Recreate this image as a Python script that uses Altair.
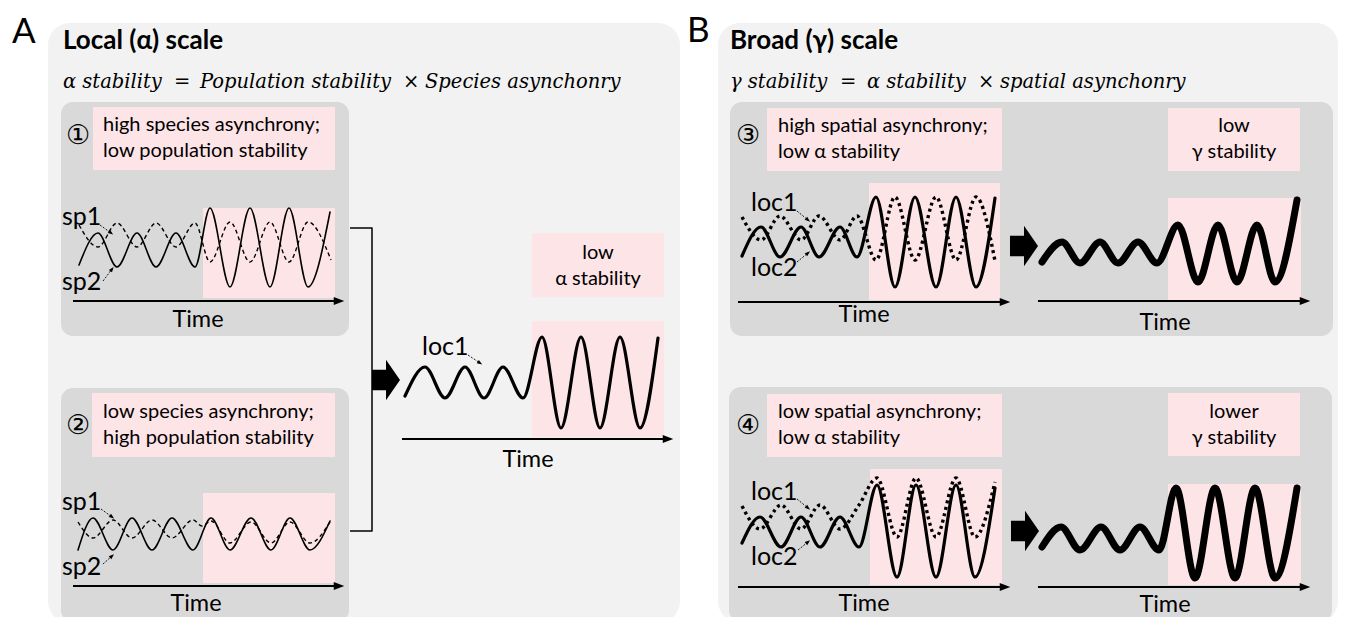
import math
import altair as alt
import pandas as pd

# ---------------- frame (the page adds an 8 px margin) ----------------
W, H, M = 1332, 609, 8

# ---------------- colours ----------------
PANEL_FILL = "#f2f2f2"
SUB_FILL = "#d9d9d9"
PINK_FILL = "#fde4e7"

# ---------------- boxes: (x, x2, y, y2) ----------------
PANELS = [(48, 680, 23, 623), (718, 1338, 23, 623)]
SUBPANELS = [(61, 349, 102, 336), (61, 349, 388, 622),
             (730, 1333, 102, 336), (729, 1332, 387, 622)]
LABEL_BOXES = [(93, 335, 107, 170), (92, 335, 393, 457), (532, 664, 233, 297),
               (767, 1002, 108, 171), (1168, 1300, 108, 171),
               (767, 1002, 394, 457), (1168, 1300, 393, 456)]
SHADE_BOXES = [(203, 335, 208, 298), (203, 335, 493, 583), (532, 664, 321, 437),
               (869, 1000, 183, 300), (1168, 1301, 198, 300),
               (870, 1002, 469, 585), (1168, 1301, 484, 585)]

# ---------------- curves: turning points ----------------
A1_SP2 = [(79, 265), (98, 233), (117, 267), (137, 233), (156, 267), (176, 233), (195, 267),
          (210, 208), (230, 287), (250, 208), (270, 287), (289, 208), (308, 287), (330, 212)]
A1_SP1 = [(79, 225), (98, 247), (117, 223), (137, 247), (156, 223), (176, 247), (195, 223),
          (210, 262), (230, 222), (250, 262), (270, 222), (289, 262), (308, 222), (331, 260)]
A2_SP2 = [(78, 550), (93, 518), (113, 550), (132, 518), (152, 550), (172, 518), (193, 550),
          (211, 518), (230, 550), (251, 518), (271, 550), (290, 518), (310, 550), (330, 521)]
A2_SP1 = [(78, 522), (93, 538), (113, 520), (132, 538), (152, 520), (172, 538), (193, 520),
          (202, 526), (211, 521), (230, 543), (251, 522), (271, 543), (290, 522), (310, 543),
          (330, 522)]
A_LOC1 = [(405, 396), (425, 367), (445, 398), (465, 367), (484, 398), (503, 367), (523, 398),
          (542, 337), (561, 428), (581, 337), (600, 428), (620, 337), (640, 428), (658, 338)]
B3_LOC2 = [(742, 256), (761, 227), (780, 257), (801, 227), (819, 257), (840, 227), (857, 257),
           (876, 197), (895, 287), (915, 197), (936, 287), (956, 197), (976, 287), (995, 198)]
B3_LOC1 = [(742, 217), (761, 240), (780, 216), (801, 240), (819, 216), (840, 240), (857, 216),
           (876, 260), (895, 197), (915, 260), (936, 197), (956, 260), (976, 197), (995, 261)]
B3_GAMMA = [(1042, 262), (1062, 242), (1080, 263), (1100, 242), (1118, 263), (1138, 242),
            (1157, 263), (1178, 225), (1198, 282), (1218, 225), (1237, 282), (1257, 225),
            (1275, 282), (1297, 200)]
B4_LOC2 = [(742, 543), (760, 517), (781, 547), (801, 517), (820, 547), (840, 517), (859, 547),
           (877, 485), (897, 577), (916, 485), (936, 577), (956, 485), (975, 577), (995, 488)]
B4_LOC1 = [(742, 506), (760, 529), (781, 505), (801, 529), (820, 505), (840, 529), (859, 505),
           (877, 478), (897, 537), (916, 478), (936, 537), (956, 478), (975, 537), (995, 482)]
B4_GAMMA = [(1042, 547), (1061, 527), (1080, 550), (1101, 527), (1120, 550), (1140, 527),
            (1159, 550), (1176, 488), (1195, 578), (1215, 488), (1235, 578), (1255, 488),
            (1275, 578), (1297, 488)]

BRACKET = [(350, 228), (372, 228), (372, 531), (350, 531)]

# time axes: (x start, x tip, y)
TIME_AXES = [(73, 344, 301), (73, 344, 586), (402, 673, 439), (738, 1010, 302),
             (1038, 1310, 301), (738, 1010, 587), (1038, 1310, 587)]
TIME_LABELS = [(198, 320), (196, 604), (528, 460), (864, 315), (1165, 323), (864, 604), (1165, 605)]

BIG_ARROWS = [(386, 380), (1024, 246), (1025, 531)]
LABEL_ARROWS = [((100, 225), (111, 233)), ((103, 281), (112, 269)),
                ((101, 509), (112, 517)), ((103, 564), (112, 556)),
                ((468, 355), (480, 363)),
                ((797, 211), (808, 220)), ((797, 262), (808, 253)),
                ((797, 499), (808, 508)), ((798, 550), (808, 542))]

# ---------------- texts ----------------
BIG_LETTERS = [("A", 12, 43), ("B", 687, 42)]
TITLES = [("Local (α) scale", 63, 41), ("Broad (γ) scale", 730, 41)]
FORMULA = [("α stability", 63), ("=", 174), ("Population stability", 200), ("×", 403),
           ("Species asynchonry", 425),
           ("γ stability", 730), ("=", 840), ("α stability", 867), ("×", 978),
           ("spatial asynchonry", 1000)]
FORMULA_Y = 82
BOX_TEXT_LEFT = [("high species asynchrony;", 103, 125), ("low population stability", 103, 151),
                 ("low species asynchrony;", 103, 412), ("high population stability", 103, 438),
                 ("high spatial asynchrony;", 778, 126), ("low α stability", 778, 152),
                 ("low spatial asynchrony;", 778, 412), ("low α stability", 778, 438)]
BOX_TEXT_CENTER = [("low", 598, 253), ("α stability", 598, 279),
                   ("low", 1234, 126), ("γ stability", 1234, 152),
                   ("lower", 1234, 412), ("γ stability", 1234, 438)]
SERIES_LABELS = [("sp1", 62, 217), ("sp2", 62, 282), ("sp1", 62, 502), ("sp2", 62, 567),
                 ("loc1", 422, 347), ("loc1", 751, 203), ("loc2", 751, 268),
                 ("loc1", 751, 492), ("loc2", 751, 557)]
CIRCLED = [("①", 78, 136), ("②", 78, 426), ("③", 748, 136), ("④", 748, 426)]

# ---------------- scales ----------------
xs = alt.Scale(domain=[M, M + W], nice=False, zero=False)
ys = alt.Scale(domain=[M, M + H], nice=False, zero=False, reverse=True)


def X(f):
    return alt.X(f, type="quantitative", scale=xs, axis=None)


def Y(f):
    return alt.Y(f, type="quantitative", scale=ys, axis=None)


def rect_layer(boxes, fill, radius):
    df = pd.DataFrame(boxes, columns=["x", "x2", "y", "y2"])
    return alt.Chart(df).mark_rect(cornerRadius=radius, fill=fill, strokeWidth=0).encode(
        x=X("x"), x2=alt.X2("x2"), y=Y("y"), y2=alt.Y2("y2"))


def line_layer(curves, width, dash=None, interp="monotone", cap="round"):
    rows = []
    for cid, pts in enumerate(curves):
        for i, (px, py) in enumerate(pts):
            rows.append({"id": cid, "i": i, "x": px, "y": py})
    kw = dict(interpolate=interp, color="black", strokeWidth=width, strokeCap=cap,
              strokeJoin="round")
    if dash is not None:
        kw["strokeDash"] = dash
    return alt.Chart(pd.DataFrame(rows)).mark_line(**kw).encode(
        x=X("x"), y=Y("y"), detail="id:N", order="i:Q")


def text_layer(items, size, align="left", font="Lato", weight="normal", style="normal",
               baseline="middle"):
    df = pd.DataFrame(items, columns=["t", "x", "y"])
    return alt.Chart(df).mark_text(align=align, baseline=baseline, font=font, fontSize=size,
                                   fontWeight=weight, fontStyle=style, color="black").encode(
        x=X("x"), y=Y("y"), text="t:N")


def point_layer(df, shape, size):
    return alt.Chart(df).mark_point(shape=shape, size=size, filled=True, color="black",
                                    opacity=1, strokeWidth=0).encode(
        x=X("x"), y=Y("y"), angle=alt.Angle("a:Q", scale=None))


layers = []
layers.append(rect_layer(PANELS, PANEL_FILL, 22))
layers.append(rect_layer(SUBPANELS, SUB_FILL, 12))
layers.append(rect_layer(LABEL_BOXES, PINK_FILL, 0))
layers.append(rect_layer(SHADE_BOXES, PINK_FILL, 0))

# curves
layers.append(line_layer([A1_SP2, A2_SP2], 1.6))
layers.append(line_layer([A1_SP1, A2_SP1], 1.4, dash=[4, 3], cap="butt"))
layers.append(line_layer([A_LOC1, B3_LOC2, B4_LOC2], 3.2))
layers.append(line_layer([B3_LOC1, B4_LOC1], 3.4, dash=[3, 3.5], cap="butt"))
layers.append(line_layer([B3_GAMMA, B4_GAMMA], 7))
layers.append(line_layer([BRACKET], 1.5, interp="linear", cap="butt"))

# time axes (line + arrow head)
axis_lines = [[(x0, y), (x1 - 6, y)] for (x0, x1, y) in TIME_AXES]
layers.append(line_layer(axis_lines, 2.2, interp="linear", cap="butt"))
HEAD_R = "M 1 0 L -1 -0.75 L -1 0.75 Z"
heads = pd.DataFrame([{"x": x1 - 5, "y": y, "a": 0} for (x0, x1, y) in TIME_AXES])
layers.append(point_layer(heads, HEAD_R, 110))

# small label arrows
label_lines = [[p, q] for (p, q) in LABEL_ARROWS]
layers.append(line_layer(label_lines, 0.9, dash=[2, 1.5], interp="linear", cap="butt"))
HEAD_UP = "M 0 -1 L 0.75 1 L -0.75 1 Z"
tips = []
for (p, q) in LABEL_ARROWS:
    dx, dy = q[0] - p[0], q[1] - p[1]
    ang = math.degrees(math.atan2(dx, -dy)) % 360
    tips.append({"x": q[0], "y": q[1], "a": ang})
layers.append(point_layer(pd.DataFrame(tips), HEAD_UP, 28))

# big block arrows
BLOCK = "M -0.69 -0.5 L 0 -0.5 L 0 -1 L 0.69 0 L 0 1 L 0 0.5 L -0.69 0.5 Z"
big = pd.DataFrame([{"x": x, "y": y, "a": 0} for (x, y) in BIG_ARROWS])
layers.append(point_layer(big, BLOCK, 1650))

# texts
layers.append(text_layer(BIG_LETTERS, 35, baseline="alphabetic"))
layers.append(text_layer(TITLES, 26, weight="bold"))
layers.append(text_layer([(t, x, FORMULA_Y) for (t, x) in FORMULA], 19.5,
                         font="DejaVu Serif", style="italic"))
layers.append(text_layer(BOX_TEXT_LEFT, 20))
layers.append(text_layer(BOX_TEXT_CENTER, 20, align="center"))
layers.append(text_layer(SERIES_LABELS, 25))
layers.append(text_layer([("Time", x, y) for (x, y) in TIME_LABELS], 23.5, align="center"))
layers.append(text_layer(CIRCLED, 27, align="center", font="DejaVu Sans"))

chart = alt.layer(*layers).properties(
    width=W, height=H, padding=0, background="white",
    autosize=alt.AutoSizeParams(type="none"),
).configure_view(strokeWidth=0)

chart.save("out.html", embed_options={"renderer": "svg", "actions": False})
